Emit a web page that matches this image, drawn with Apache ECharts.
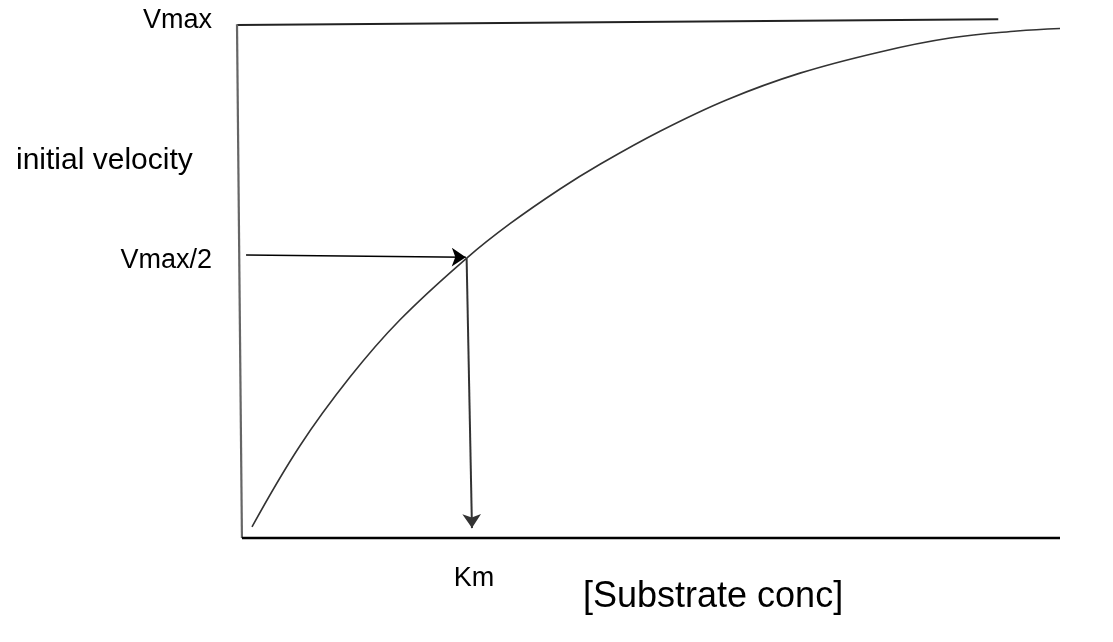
<!DOCTYPE html>
<html>
<head>
<meta charset="utf-8">
<script src="https://cdn.jsdelivr.net/npm/echarts@6/dist/echarts.min.js"></script>
<style>
html,body{margin:0;padding:0;background:#fff;}
#chart{width:1113px;height:642px;}
</style>
</head>
<body>
<div id="chart"></div>
<script>
// Michaelis-Menten sketch: substrate concentration (0-100) vs initial velocity (0-100)
const curveS = [1.82, 7.65, 13.73, 19.81, 27.95, 33.17, 39.25, 44.11, 51.40, 59.54, 68.41, 78.13, 86.63, 94.78, 100];
const curveV = [2.12, 17.73, 30.94, 41.96, 53.87, 60.44, 67.12, 71.88, 78.23, 84.29, 89.40, 93.48, 96.15, 97.50, 97.98];

const vmaxLineS = [0, 92.5];
const vmaxLineV = [98.65, 99.75];

const yAxisLineS = [0, 0.6];
const yAxisLineV = [98.8, 0];
const xAxisLineS = [0.6, 100];
const xAxisLineV = [0, 0];

const halfArrowS = [1.1, 27.8];
const halfArrowV = [54.4, 54.0];
const kmArrowS = [27.9, 28.55];
const kmArrowV = [53.8, 1.9];

const yTickValues = [99.6, 53.4];
const yTickLabels = ['Vmax', 'Vmax/2'];
const xTickValues = [28.8];
const xTickLabels = ['Km'];

const yAxisTitle = 'initial velocity';
const xAxisTitle = '[Substrate conc]';

const FONT = '"Liberation Sans", Arial, sans-serif';

function pairs(xs, ys) { return xs.map((x, i) => [x, ys[i]]); }

const chart = echarts.init(document.getElementById('chart'), null, { renderer: 'canvas' });

chart.setOption({
  animation: false,
  backgroundColor: '#ffffff',
  title: [
    { text: yAxisTitle, left: 16, top: 146, padding: 0,
      textStyle: { fontFamily: FONT, fontSize: 30, fontWeight: 'normal', color: '#000', lineHeight: 30 } },
    { text: xAxisTitle, left: 583, top: 579, padding: 0,
      textStyle: { fontFamily: FONT, fontSize: 36, fontWeight: 'normal', color: '#000', lineHeight: 36 } }
  ],
  grid: { left: 237, right: 53, top: 18, bottom: 104, containLabel: false },
  xAxis: {
    type: 'value', min: 0, max: 100,
    axisLine: { show: false }, axisTick: { show: false }, splitLine: { show: false },
    axisLabel: {
      customValues: xTickValues,
      formatter: v => xTickLabels[xTickValues.indexOf(v)] || '',
      margin: 27, fontFamily: FONT, fontSize: 27, color: '#000'
    }
  },
  yAxis: {
    type: 'value', min: 0, max: 100,
    axisLine: { show: false }, axisTick: { show: false }, splitLine: { show: false },
    axisLabel: {
      customValues: yTickValues,
      formatter: v => yTickLabels[yTickValues.indexOf(v)] || '',
      margin: 25, fontFamily: FONT, fontSize: 27, color: '#000'
    }
  },
  series: [
    { type: 'line', data: pairs(curveS, curveV), smooth: 0.4, showSymbol: false, clip: false,
      lineStyle: { color: '#333', width: 1.6 } },
    { type: 'line', data: pairs(vmaxLineS, vmaxLineV), showSymbol: false, clip: false,
      lineStyle: { color: '#222', width: 2 } },
    { type: 'line', data: pairs(yAxisLineS, yAxisLineV), showSymbol: false, clip: false,
      lineStyle: { color: '#666', width: 2.2 } },
    { type: 'line', data: pairs(xAxisLineS, xAxisLineV), showSymbol: false, clip: false,
      lineStyle: { color: '#000', width: 2.6 } },
    { type: 'lines', coordinateSystem: 'cartesian2d', symbol: ['none', 'arrow'], symbolSize: 14,
      lineStyle: { color: '#000', width: 1.5, opacity: 1 },
      data: [{ coords: pairs(halfArrowS, halfArrowV) }] },
    { type: 'lines', coordinateSystem: 'cartesian2d', symbol: ['none', 'arrow'], symbolSize: 14,
      lineStyle: { color: '#333', width: 2, opacity: 1 },
      data: [{ coords: pairs(kmArrowS, kmArrowV) }] }
  ]
});
</script>
</body>
</html>
